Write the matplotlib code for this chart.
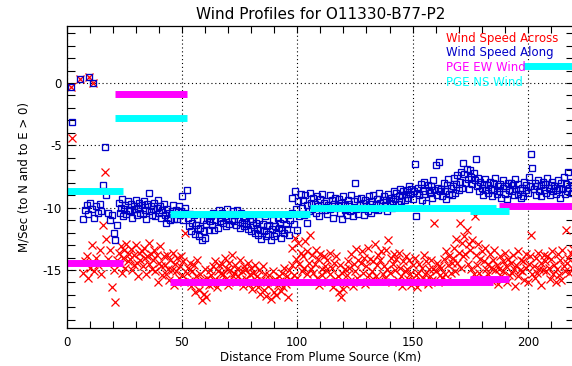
import numpy as np
import matplotlib
matplotlib.use("Agg")
import matplotlib.pyplot as plt
from matplotlib.ticker import MultipleLocator

plt.rcParams['font.family'] = ['DejaVu Sans']
plt.rcParams['axes.unicode_minus'] = False

# Distance of each retrieval from the plume source (km)
distance_km = [
    1.7, 2.4, 5.7, 9.7, 11.3, 16.6,
    7.0, 7.9, 8.6, 9.4, 10.3, 11.0, 11.9, 12.6, 13.4, 14.3,
    15.0, 15.8, 17.2, 18.1, 18.8, 19.6, 20.3, 21.1, 21.8,
    22.5, 22.9, 23.5, 24.0, 24.4, 25.0, 25.5, 25.9, 26.5, 27.0,
    27.5, 27.9, 28.5, 29.0, 29.4, 30.0, 30.5, 30.9, 31.5, 32.0,
    32.5, 32.9, 33.5, 34.0, 34.4, 35.0, 35.5, 35.9, 36.5, 37.0,
    37.5, 37.9, 38.5, 39.0, 39.4, 40.0, 40.5, 40.9, 41.5, 42.0,
    42.5, 42.9, 43.5, 44.0, 44.4, 45.0, 45.5, 45.9, 46.5, 47.0,
    47.5, 47.9, 48.5, 49.0, 49.4, 50.0, 50.5, 50.9, 51.5, 52.0,
    52.5, 52.9, 53.5, 54.0, 54.4, 55.0, 55.5, 55.9, 56.5, 57.0,
    57.5, 57.9, 58.5, 59.0, 59.4, 60.0, 60.5, 60.9, 61.5, 62.0,
    62.5, 62.9, 63.5, 64.0, 64.4, 65.0, 65.5, 65.9, 66.5, 67.0,
    67.5, 67.9, 68.5, 69.0, 69.4, 70.0, 70.5, 70.9, 71.5, 72.0,
    72.5, 72.9, 73.5, 74.0, 74.4, 75.0, 75.5, 75.9, 76.5, 77.0,
    77.5, 77.9, 78.5, 79.0, 79.4, 80.0, 80.5, 80.9, 81.5, 82.0,
    82.5, 82.9, 83.5, 84.0, 84.4, 85.0, 85.5, 85.9, 86.5, 87.0,
    87.5, 87.9, 88.5, 89.0, 89.4, 90.0, 90.5, 90.9, 91.5, 92.0,
    92.5, 92.9, 93.5, 94.0, 94.4, 95.0, 95.5, 95.9, 96.5, 97.0,
    97.5, 97.9, 98.5, 99.0, 99.4, 100.0, 100.5, 100.9, 101.5, 102.0,
    102.5, 102.9, 103.5, 104.0, 104.4, 105.0, 105.5, 105.9, 106.5, 107.0,
    107.5, 107.9, 108.5, 109.0, 109.4, 110.0, 110.5, 110.9, 111.5, 112.0,
    112.5, 112.9, 113.5, 114.0, 114.4, 115.0, 115.5, 115.9, 116.5, 117.0,
    117.5, 117.9, 118.5, 119.0, 119.4, 120.0, 120.5, 120.9, 121.5, 122.0,
    122.5, 122.9, 123.5, 124.0, 124.4, 125.0, 125.5, 125.9, 126.5, 127.0,
    127.5, 127.9, 128.5, 129.0, 129.4, 130.0, 130.5, 130.9, 131.5, 132.0,
    132.5, 132.9, 133.5, 134.0, 134.4, 135.0, 135.5, 135.9, 136.5, 137.0,
    137.5, 137.9, 138.5, 139.0, 139.4, 140.0, 140.5, 140.9, 141.5, 142.0,
    142.5, 142.9, 143.5, 144.0, 144.4, 145.0, 145.5, 145.9, 146.5, 147.0,
    147.5, 147.9, 148.5, 149.0, 149.4, 150.0, 150.5, 150.9, 151.5, 152.0,
    152.5, 152.9, 153.5, 154.0, 154.4, 155.0, 155.5, 155.9, 156.5, 157.0,
    157.5, 157.9, 158.5, 159.0, 159.4, 160.0, 160.5, 160.9, 161.5, 162.0,
    162.5, 162.9, 163.5, 164.0, 164.4, 165.0, 165.5, 165.9, 166.5, 167.0,
    167.5, 167.9, 168.5, 169.0, 169.4, 170.0, 170.5, 170.9, 171.5, 172.0,
    172.5, 172.9, 173.5, 174.0, 174.4, 175.0, 175.5, 175.9, 176.5, 177.0,
    177.5, 177.9, 178.5, 179.0, 179.4, 180.0, 180.5, 180.9, 181.5, 182.0,
    182.5, 182.9, 183.5, 184.0, 184.4, 185.0, 185.5, 185.9, 186.5, 187.0,
    187.5, 187.9, 188.5, 189.0, 189.4, 190.0, 190.5, 190.9, 191.5, 192.0,
    192.5, 192.9, 193.5, 194.0, 194.4, 195.0, 195.5, 195.9, 196.5, 197.0,
    197.5, 197.9, 198.5, 199.0, 199.4, 200.0, 200.5, 200.9, 201.5, 202.0,
    202.5, 202.9, 203.5, 204.0, 204.4, 205.0, 205.5, 205.9, 206.5, 207.0,
    207.5, 207.9, 208.5, 209.0, 209.4, 210.0, 210.5, 210.9, 211.5, 212.0,
    212.5, 212.9, 213.5, 214.0, 214.4, 215.0, 215.5, 215.9, 216.5, 217.0,
    217.5, 217.9, 218.5, 219.0, 219.4,
]

# Wind speed along the plume direction (m/s)
speed_along = [
    -0.3, -3.1, 0.3, 0.5, 0.0, -5.1,
    -10.9, -10.2, -9.8, -10.5, -9.6, -10.1, -10.8, -9.9, -10.4, -9.7,
    -10.3, -8.2, -9.0, -10.4, -11.0, -10.6, -12.0, -12.6, -11.4,
    -9.6, -10.4, -10.0, -9.3, -10.7, -10.1, -9.8, -10.5, -9.5, -10.2,
    -10.3, -9.7, -10.8, -9.9, -10.1, -9.4, -10.6, -10.0, -9.6, -10.4,
    -9.8, -10.5, -9.5, -10.2, -10.9, -9.7, -8.8, -10.3, -9.9, -10.6,
    -10.1, -9.6, -10.7, -10.0, -9.4, -10.4, -9.9, -10.8, -10.2, -9.7,
    -10.6, -11.2, -10.1, -10.8, -10.4, -11.0, -10.3, -9.8, -10.9, -10.5,
    -10.2, -10.9, -9.9, -10.6, -10.3, -9.1, -11.0, -10.4, -10.0, -8.6,
    -10.8, -11.5, -10.5, -11.9, -11.2, -10.6, -12.1, -11.4, -10.9, -11.7,
    -12.3, -11.6, -12.6, -11.0, -11.9, -12.4, -11.3, -10.8, -11.8, -11.1,
    -10.7, -11.4, -10.4, -11.8, -11.0, -10.5, -11.6, -10.2, -11.1, -10.8,
    -10.4, -11.2, -10.7, -11.5, -10.1, -10.9, -11.3, -10.5, -11.0, -10.3,
    -11.1, -10.6, -11.4, -10.2, -10.9, -11.6, -10.4, -11.2, -10.7, -11.5,
    -10.8, -11.3, -11.7, -10.6, -11.1, -11.9, -10.9, -11.4, -12.0, -11.2,
    -11.6, -12.2, -11.0, -11.8, -12.5, -11.3, -11.9, -10.7, -12.3, -11.5,
    -12.1, -11.4, -12.6, -11.7, -11.0, -12.3, -11.5, -12.0, -10.8, -11.6,
    -11.2, -12.4, -11.8, -10.9, -12.0, -11.3, -11.7, -10.6, -12.2, -11.0,
    -10.4, -9.2, -11.3, -8.7, -10.1, -11.8, -9.5, -10.7, -8.9, -10.0,
    -9.4, -10.6, -9.0, -11.2, -9.8, -10.3, -8.8, -9.6, -10.1, -9.2,
    -9.7, -10.4, -9.1, -9.9, -10.7, -9.3, -10.0, -8.9, -9.6, -10.2,
    -9.5, -10.5, -9.8, -9.0, -10.1, -9.4, -10.8, -9.7, -9.2, -10.0,
    -9.9, -9.3, -10.4, -9.6, -10.9, -9.1, -10.2, -9.8, -10.6, -9.4,
    -9.7, -10.3, -9.0, -10.7, -9.5, -8.0, -10.1, -9.3, -10.5, -9.8,
    -9.2, -10.0, -9.6, -10.6, -9.4, -9.9, -10.3, -9.1, -9.7, -10.4,
    -9.5, -9.0, -10.1, -9.7, -9.3, -10.2, -8.8, -9.6, -10.0, -9.4,
    -9.1, -9.8, -9.4, -10.3, -8.9, -9.6, -9.2, -10.0, -9.5, -8.7,
    -9.3, -8.8, -9.7, -9.1, -8.5, -9.5, -9.0, -8.7, -9.4, -8.9,
    -8.6, -9.2, -8.3, -8.9, -8.5, -9.3, -8.7, -6.5, -10.7, -8.8,
    -8.4, -9.0, -8.1, -9.4, -8.7, -7.9, -8.9, -9.6, -8.2, -8.6,
    -8.8, -8.3, -9.2, -7.8, -8.6, -6.6, -9.0, -8.4, -6.3, -8.7,
    -8.5, -9.1, -8.0, -8.7, -9.3, -8.2, -7.7, -8.9, -8.4, -9.0,
    -8.3, -7.6, -8.8, -8.1, -7.4, -8.6, -7.9, -7.1, -8.4, -6.4,
    -7.3, -8.0, -6.9, -7.7, -8.5, -7.0, -7.5, -8.1, -7.2, -7.8,
    -6.1, -8.3, -7.6, -8.7, -7.9, -8.4, -9.0, -8.1, -7.7, -8.6,
    -8.2, -8.8, -7.9, -8.5, -9.1, -8.0, -8.6, -7.6, -8.9, -8.3,
    -8.7, -8.1, -9.2, -8.4, -7.8, -8.9, -8.3, -9.3, -8.0, -8.6,
    -8.0, -8.7, -8.2, -9.0, -7.7, -8.5, -8.9, -8.1, -8.6, -9.2,
    -8.4, -9.1, -7.9, -8.6, -8.2, -8.8, -7.5, -8.3, -5.7, -6.8,
    -8.5, -8.0, -9.0, -8.3, -7.8, -8.7, -8.2, -9.1, -7.9, -8.6,
    -8.1, -8.8, -7.6, -8.4, -9.0, -8.2, -7.9, -8.7, -8.3, -8.9,
    -8.6, -7.8, -8.4, -9.2, -8.0, -8.5, -7.5, -8.9, -8.1, -8.7,
    -7.1, -8.4, -7.9, -8.8, -8.2,
]

# Wind speed across the plume direction (m/s)
speed_across = [
    -0.3, -4.4, 0.3, 0.5, 0.0, -7.1,
    -15.2, -14.3, -13.9, -15.6, -14.8, -13.0, -15.1, -14.0, -14.6, -13.4,
    -15.3, -11.4, -12.5, -14.1, -13.4, -16.4, -15.0, -17.6, -14.2,
    -13.6, -14.5, -13.1, -15.2, -14.0, -13.4, -14.8, -12.9, -14.3, -13.7,
    -14.1, -13.3, -15.0, -13.8, -14.6, -13.0, -14.4, -15.5, -13.6, -14.2,
    -13.5, -14.7, -13.2, -14.0, -15.3, -13.9, -12.8, -14.5, -13.7, -14.9,
    -14.2, -13.4, -15.1, -13.8, -16.0, -14.4, -13.1, -14.7, -15.4, -13.9,
    -14.6, -15.3, -13.8, -14.9, -15.8, -14.2, -15.0, -13.6, -16.2, -14.5,
    -15.1, -14.0, -15.6, -14.7, -13.9, -15.4, -14.3, -16.0, -12.0, -15.2,
    -14.8, -15.9, -14.4, -16.3, -15.1, -14.6, -16.8, -15.5, -14.2, -16.0,
    -16.6, -15.3, -17.4, -15.8, -16.9, -14.9, -17.2, -15.6, -16.2, -15.0,
    -15.4, -16.1, -14.7, -15.8, -14.3, -16.4, -15.1, -14.6, -15.9, -15.2,
    -14.5, -15.3, -14.0, -15.7, -14.9, -16.2, -14.4, -15.0, -13.8, -15.5,
    -15.2, -14.6, -16.0, -14.9, -15.5, -14.2, -15.8, -15.1, -16.3, -14.7,
    -15.0, -15.7, -14.4, -16.1, -15.3, -14.8, -16.5, -15.2, -14.6, -15.9,
    -15.5, -16.4, -15.0, -16.9, -15.8, -14.7, -16.6, -15.3, -17.1, -16.0,
    -16.3, -15.4, -17.3, -16.0, -15.1, -16.8, -15.7, -17.0, -16.2, -15.5,
    -15.9, -16.7, -15.2, -16.4, -14.8, -16.1, -15.5, -17.2, -15.0, -15.8,
    -14.6, -13.2, -15.4, -12.4, -14.1, -15.6, -12.8, -14.5, -13.6, -15.1,
    -13.9, -14.8, -12.7, -15.3, -13.5, -14.4, -12.2, -14.9, -13.8, -15.2,
    -14.5, -13.4, -15.6, -14.1, -16.2, -13.7, -14.9, -15.4, -13.9, -14.7,
    -15.0, -14.2, -16.0, -13.6, -15.3, -14.8, -16.4, -14.4, -15.7, -13.9,
    -15.5, -16.8, -14.6, -17.2, -15.2, -16.5, -14.9, -16.1, -15.4, -14.3,
    -14.8, -15.9, -13.7, -16.3, -14.5, -15.1, -13.3, -15.6, -14.2, -16.0,
    -14.4, -13.5, -15.2, -14.0, -16.1, -14.7, -13.2, -15.4, -14.1, -15.8,
    -15.1, -14.3, -12.9, -15.5, -14.6, -13.8, -15.9, -14.2, -13.5, -15.3,
    -14.7, -15.6, -13.4, -14.9, -12.6, -15.2, -14.0, -16.0, -14.5, -13.7,
    -15.0, -14.1, -15.8, -13.6, -14.8, -15.5, -16.3, -14.3, -15.1, -13.9,
    -14.9, -15.7, -14.2, -15.3, -16.2, -14.6, -15.9, -14.0, -15.4, -16.4,
    -15.2, -14.5, -16.0, -14.8, -15.6, -13.8, -15.3, -14.3, -16.1, -14.9,
    -15.5, -14.2, -15.8, -14.9, -11.2, -15.1, -14.4, -16.0, -14.7, -15.4,
    -14.8, -15.6, -14.1, -15.3, -13.5, -15.9, -14.6, -13.9, -15.2, -14.4,
    -14.0, -13.2, -15.1, -12.5, -14.4, -13.6, -11.2, -14.8, -12.8, -13.9,
    -12.3, -13.7, -11.8, -14.5, -12.9, -13.4, -14.9, -12.6, -15.3, -10.7,
    -13.8, -14.6, -12.9, -15.2, -14.1, -13.5, -15.6, -14.3, -13.2, -14.9,
    -14.5, -15.3, -13.7, -14.8, -15.9, -14.2, -13.4, -15.0, -14.6, -16.1,
    -14.9, -13.9, -15.5, -14.3, -15.1, -13.6, -14.7, -16.0, -14.1, -15.4,
    -14.4, -15.2, -13.8, -14.9, -16.3, -14.6, -15.5, -13.5, -15.0, -14.2,
    -15.1, -14.3, -15.8, -13.7, -14.8, -16.0, -14.5, -13.9, -12.2, -15.3,
    -14.7, -15.6, -14.0, -15.2, -13.6, -14.9, -16.2, -14.4, -15.0, -13.8,
    -14.3, -15.1, -13.9, -14.8, -15.7, -14.1, -13.5, -15.3, -14.6, -16.0,
    -14.9, -13.7, -15.4, -14.2, -15.8, -13.4, -14.7, -15.1, -11.8, -14.4,
    -14.0, -15.2, -13.6, -14.8, -13.3,
]

# PGE model winds: each piece runs from start to end km at a constant speed
ew_start = [0.0, 21.0, 44.7, 174.7, 187.3]
ew_end = [24.4, 52.0, 185.0, 192.0, 222.0]
ew_speed = [-14.45, -0.9, -16.0, -15.7, -9.9]

ns_start = [0.0, 21.0, 44.7, 105.5, 174.7, 197.7]
ns_end = [24.4, 52.0, 105.5, 186.3, 192.0, 222.0]
ns_speed = [-8.7, -2.8, -10.5, -10.0, -10.3, 1.4]

legend_labels = ['Wind Speed Across', 'Wind Speed Along', 'PGE EW Wind', 'PGE NS Wind']
legend_colors = ['#FF0000', '#0000C8', '#FF00FF', '#00FFFF']

fig = plt.figure(figsize=(5.72, 3.66), dpi=100)
ax = fig.add_axes([0.1166, 0.1038, 0.8869, 0.8251])

# scatter of retrieved winds
ax.plot(distance_km, speed_across, linestyle='none', marker='x', markersize=5.2,
        markeredgewidth=0.9, color='#FF0000')
ax.plot(distance_km, speed_along, linestyle='none', marker='s', markersize=5.0,
        markeredgewidth=0.95, markerfacecolor='none', markeredgecolor='#0000C8')

# PGE winds as thick horizontal bars
ax.hlines(ew_speed, ew_start, ew_end, colors='#FF00FF', linewidth=5)
ax.hlines(ns_speed, ns_start, ns_end, colors='#00FFFF', linewidth=5)

ax.set_xlim(0, 220)
ax.set_ylim(-19.65, 4.57)

ax.xaxis.set_major_locator(MultipleLocator(50))
ax.xaxis.set_minor_locator(MultipleLocator(10))
ax.yaxis.set_major_locator(MultipleLocator(5))
ax.yaxis.set_minor_locator(MultipleLocator(1))

ax.tick_params(axis='x', which='both', direction='in', top=True, length=5, width=0.8,
               labelsize=8.5, pad=6)
ax.tick_params(axis='y', which='both', direction='in', right=True, length=6, width=0.8,
               labelsize=8.5, pad=3.5)

ax.grid(True, which='major', color='black', linestyle=(0, (1, 2.5)), linewidth=0.8)
for sp in ax.spines.values():
    sp.set_linewidth(0.9)

ax.set_title('Wind Profiles for O11330-B77-P2', fontsize=11, pad=5)
ax.set_xlabel('Distance From Plume Source (Km)', fontsize=8.5)
ax.set_ylabel('M/Sec (to N and to E > 0)', fontsize=8.5)
ax.xaxis.set_label_coords(0.5, -0.075)
ax.yaxis.set_label_coords(-0.072, 0.5)

# text-only legend in the upper right corner
for i, (lab, col) in enumerate(zip(legend_labels, legend_colors)):
    ax.text(0.748, 0.960 - i * 0.049, lab, color=col, fontsize=8.5,
            transform=ax.transAxes, va='center', ha='left')

fig.savefig('out.png', dpi=100, facecolor='white')
